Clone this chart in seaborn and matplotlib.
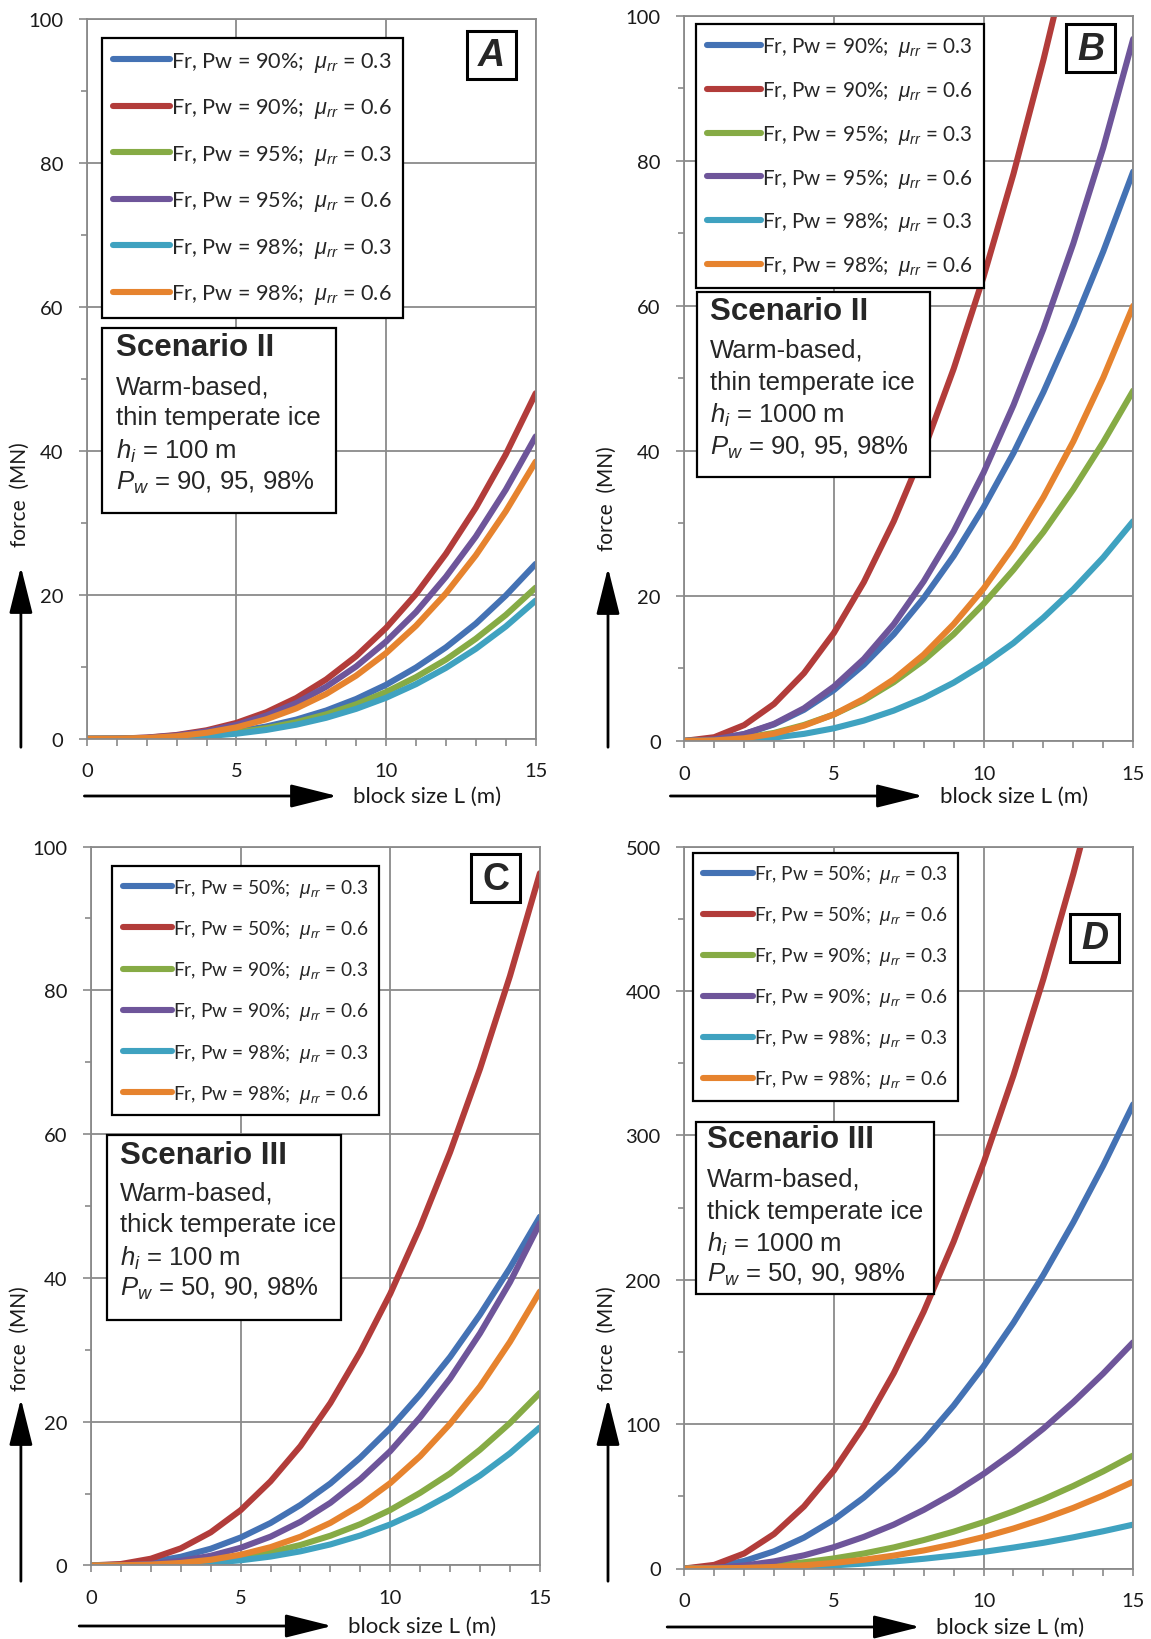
import seaborn as sns
import matplotlib.pyplot as plt
from matplotlib.patches import Rectangle, FancyArrowPatch
from matplotlib.ticker import MultipleLocator

W, H = 1151, 1640

L = list(range(16))
colors = ['#4472b4', '#b23c3a', '#86ab45', '#6e559a', '#3fa2c0', '#e6832e']
mu = ['0.3', '0.6', '0.3', '0.6', '0.3', '0.6']

# panel A: scenario II, hi = 100 m
a_pw = ['90', '90', '95', '95', '98', '98']
a_90_03 = [0, 0.01, 0.07, 0.23, 0.53, 1.0, 1.71, 2.67, 3.93, 5.53, 7.5, 9.9, 12.7, 16.0, 19.9, 24.3]
a_90_06 = [0, 0.02, 0.17, 0.53, 1.18, 2.21, 3.69, 5.67, 8.25, 11.47, 15.4, 20.1, 25.7, 32.1, 39.5, 48.0]
a_95_03 = [0, 0.01, 0.06, 0.2, 0.46, 0.87, 1.48, 2.31, 3.4, 4.79, 6.5, 8.57, 11.0, 13.9, 17.2, 21.0]
a_95_06 = [0, 0.02, 0.15, 0.46, 1.04, 1.94, 3.23, 4.97, 7.23, 10.05, 13.5, 17.6, 22.5, 28.1, 34.6, 42.0]
a_98_03 = [0, 0.01, 0.05, 0.15, 0.37, 0.71, 1.23, 1.96, 2.92, 4.16, 5.7, 7.59, 9.85, 12.5, 15.6, 19.2]
a_98_06 = [0, 0.02, 0.11, 0.36, 0.84, 1.59, 2.71, 4.23, 6.23, 8.77, 11.9, 15.7, 20.2, 25.5, 31.6, 38.5]

# panel B: scenario II, hi = 1000 m
b_pw = ['90', '90', '95', '95', '98', '98']
b_90_03 = [0, 0.2, 0.93, 2.28, 4.29, 7.01, 10.5, 14.7, 19.7, 25.5, 32.2, 39.7, 48.1, 57.4, 67.5, 78.5]
b_90_06 = [0, 0.51, 2.18, 5.1, 9.34, 14.9, 21.9, 30.3, 40.1, 51.3, 64.0, 78.2, 93.9, 111.0]
b_95_03 = [0, 0.08, 0.42, 1.1, 2.2, 3.65, 5.6, 8.1, 11.1, 14.7, 18.9, 23.6, 28.8, 34.7, 41.2, 48.3]
b_95_06 = [0, 0.2, 0.95, 2.35, 4.5, 7.5, 11.3, 16.1, 22.0, 28.9, 37.0, 46.3, 56.8, 68.6, 81.8, 96.8]
b_98_03 = [0, 0.03, 0.16, 0.46, 0.97, 1.74, 2.8, 4.18, 5.91, 8.03, 10.56, 13.5, 17.0, 20.9, 25.3, 30.3]
b_98_06 = [0, 0.06, 0.36, 1.0, 2.1, 3.65, 5.8, 8.5, 11.9, 16.1, 21.0, 26.8, 33.6, 41.3, 50.1, 60.0]

# panel C: scenario III, hi = 100 m
c_pw = ['50', '50', '90', '90', '98', '98']
c_50_03 = [0, 0.1, 0.47, 1.2, 2.32, 3.88, 5.9, 8.41, 11.4, 15.0, 19.1, 23.8, 29.0, 34.9, 41.4, 48.5]
c_50_06 = [0, 0.19, 0.93, 2.37, 4.6, 7.68, 11.7, 16.6, 22.6, 29.7, 37.8, 47.1, 57.5, 69.1, 82.0, 96.3]
c_90_03 = [0, 0.01, 0.08, 0.27, 0.59, 1.11, 1.85, 2.84, 4.13, 5.74, 7.71, 10.1, 12.8, 16.1, 19.8, 24.0]
c_90_06 = [0, 0.03, 0.21, 0.62, 1.34, 2.45, 4.0, 6.07, 8.71, 12.0, 15.9, 20.6, 26.0, 32.3, 39.4, 47.6]
c_98_03 = [0, 0.01, 0.05, 0.15, 0.37, 0.71, 1.23, 1.96, 2.92, 4.16, 5.7, 7.59, 9.85, 12.5, 15.6, 19.2]
c_98_06 = [0, 0.02, 0.11, 0.34, 0.78, 1.49, 2.54, 3.99, 5.92, 8.38, 11.45, 15.2, 19.7, 24.9, 31.1, 38.1]

# panel D: scenario III, hi = 1000 m
d_pw = ['50', '50', '90', '90', '98', '98']
d_50_03 = [0, 1.26, 5.18, 11.9, 21.4, 33.8, 49.2, 67.4, 88.6, 112.8, 140, 170.2, 203.4, 239.8, 279.1, 321.5]
d_50_06 = [0, 2.52, 10.4, 23.9, 43.0, 67.9, 98.7, 135.3, 177.9, 226.4, 281, 341.6, 408.4, 481.2, 560.2]
d_90_03 = [0, 0.2, 0.93, 2.27, 4.28, 6.99, 10.4, 14.6, 19.7, 25.5, 32.1, 39.6, 47.9, 57.2, 67.3, 78.3]
d_90_06 = [0, 0.47, 2.06, 4.93, 9.14, 14.8, 21.9, 30.4, 40.6, 52.2, 65.5, 80.4, 96.9, 115.2, 135.1, 156.7]
d_98_03 = [0, 0.05, 0.24, 0.64, 1.28, 2.18, 3.38, 4.89, 6.73, 8.93, 11.5, 14.5, 17.8, 21.6, 25.8, 30.4]
d_98_06 = [0, 0.07, 0.39, 1.07, 2.21, 3.85, 6.08, 8.94, 12.5, 16.8, 21.8, 27.7, 34.4, 42.0, 50.6, 60.1]

sns.set_theme(style='white')
plt.rcParams['font.family'] = ['Lato', 'DejaVu Sans']
plt.rcParams['mathtext.fontset'] = 'custom'
plt.rcParams['mathtext.it'] = 'Liberation Sans:italic'
plt.rcParams['mathtext.rm'] = 'Liberation Sans'

GRID = '#8a8a8a'
ARROW = '-|>,head_length=1.2,head_width=0.3'

fig = plt.figure(figsize=(W / 100, H / 100), dpi=100)


def fxy(px, py):
    return px / W, 1 - py / H


def draw_panel(rect, series, pw, ymax, ystep, letter, letter_xy, italic_letter,
               leg_xy, leg_fs, leg_sp, box, lines, line_y, text_x, yarrow, xarrow):
    x0, y0 = fxy(rect[0], rect[3])
    x1, y1 = fxy(rect[2], rect[1])
    ax = fig.add_axes([x0, y0, x1 - x0, y1 - y0])

    for vals, c, p, m in zip(series, colors, pw, mu):
        lab = 'Fr, Pw = %s%%;  $\\mu_{rr}$ = %s' % (p, m)
        sns.lineplot(x=L[:len(vals)], y=vals, ax=ax, color=c, lw=4.4, label=lab,
                     estimator=None, solid_joinstyle='round', solid_capstyle='round')

    ax.set_xlim(0, 15)
    ax.set_ylim(0, ymax)
    ax.xaxis.set_major_locator(MultipleLocator(5))
    ax.xaxis.set_minor_locator(MultipleLocator(1))
    ax.yaxis.set_major_locator(MultipleLocator(ystep))
    ax.yaxis.set_minor_locator(MultipleLocator(ystep / 2))
    ax.grid(True, which='major', color=GRID, lw=1.3)
    ax.set_axisbelow(True)
    for s in ax.spines.values():
        s.set_color(GRID)
        s.set_linewidth(1.3)
    ax.tick_params(which='both', direction='out', color=GRID, width=1.2,
                   labelsize=14.5, labelcolor='#1a1a1a')
    ax.tick_params(axis='x', which='both', length=5, pad=12)
    ax.tick_params(axis='y', which='major', length=6, pad=11)
    ax.tick_params(axis='y', which='minor', length=4)
    ax.tick_params(bottom=True, left=True, which='both')
    ax.set_xlabel('')
    ax.set_ylabel('')

    h, l = ax.get_legend_handles_labels()
    leg = ax.legend(h, l, loc='upper left', bbox_to_anchor=fxy(*leg_xy),
                    bbox_transform=fig.transFigure, borderaxespad=0, frameon=True,
                    fancybox=False, edgecolor='black', framealpha=1,
                    prop={'family': 'Lato', 'size': leg_fs}, handlelength=2.6,
                    handletextpad=0.05, labelspacing=leg_sp, borderpad=0.55)
    leg.get_frame().set_linewidth(1.6)
    for ln in leg.get_lines():
        ln.set_linewidth(4.4)

    # scenario box
    bx0, by0 = fxy(box[0], box[3])
    bx1, by1 = fxy(box[2], box[1])
    fig.add_artist(Rectangle((bx0, by0), bx1 - bx0, by1 - by0, transform=fig.transFigure,
                             facecolor='white', edgecolor='black', lw=1.6, zorder=5))
    for i, (txt, yy) in enumerate(zip(lines, line_y)):
        fig.text(*fxy(text_x, yy), txt, ha='left', va='center', zorder=6,
                 family='Liberation Sans', fontsize=22.5 if i == 0 else 18.5,
                 fontweight='bold' if i == 0 else 'normal')

    # panel letter
    cx, cy = letter_xy
    lx0, ly0 = fxy(cx - 24.5, cy + 24)
    fig.add_artist(Rectangle((lx0, ly0), 49 / W, 48 / H, transform=fig.transFigure,
                             facecolor='white', edgecolor='black', lw=2.2, zorder=5))
    fig.text(*fxy(cx, cy + 1), letter, ha='center', va='center', zorder=6,
             family='Liberation Sans', fontsize=27, fontweight='bold',
             style='italic' if italic_letter else 'normal')

    # axis arrows
    ax_x, ay0, ay1, ty = yarrow
    fig.add_artist(FancyArrowPatch(fxy(ax_x, ay0), fxy(ax_x, ay1), transform=fig.transFigure,
                                   arrowstyle=ARROW, mutation_scale=24, lw=2, color='black'))
    fig.text(*fxy(ax_x - 1.5, ty), 'force  (MN)', rotation=90, ha='center', va='center',
             fontsize=15, color='#1a1a1a')
    xa0, xa1, xy_, tx = xarrow
    fig.add_artist(FancyArrowPatch(fxy(xa0, xy_), fxy(xa1, xy_), transform=fig.transFigure,
                                   arrowstyle=ARROW, mutation_scale=24, lw=2, color='black'))
    fig.text(*fxy(tx, xy_), 'block size L (m)', ha='left', va='center',
             fontsize=16, color='#1a1a1a')
    return ax


draw_panel((86.8, 19.9, 535.7, 739.8),
           [a_90_03, a_90_06, a_95_03, a_95_06, a_98_03, a_98_06], a_pw, 100, 20,
           'A', (491.3, 55.5), True, (101.5, 38.7), 15.6, 1.04,
           (101.5, 328.6, 335.9, 513.8),
           ['Scenario II', 'Warm-based,', 'thin temperate ice',
            '$h_i$ = 100 m', '$P_w$ = 90, 95, 98%'],
           [348.4, 387.2, 418.5, 451.0, 483.4], 116,
           (20.9, 751, 565, 495), (81.6, 340, 797, 352.6))

draw_panel((684.3, 16.7, 1133.2, 741.9),
           [b_90_03, b_90_06, b_95_03, b_95_06, b_98_03, b_98_06], b_pw, 100, 20,
           'B', (1090.8, 49.2), True, (695.8, 25.1), 14.9, 1.0,
           (696.9, 293.0, 930.2, 478.2),
           ['Scenario II', 'Warm-based,', 'thin temperate ice',
            '$h_i$ = 1000 m', '$P_w$ = 90, 95, 98%'],
           [311.8, 350.5, 383.0, 415.4, 447.8], 710,
           (608, 751, 566, 499), (667.6, 926, 797, 939.6))

draw_panel((91.0, 847.6, 539.9, 1566.4),
           [c_50_03, c_50_06, c_90_03, c_90_06, c_98_03, c_98_06], c_pw, 100, 20,
           'C', (495.9, 879.0), False, (112.0, 867.4), 13.8, 1.0,
           (106.7, 1136.3, 341.1, 1320.5),
           ['Scenario III', 'Warm-based,', 'thick temperate ice',
            '$h_i$ = 100 m', '$P_w$ = 50, 90, 98%'],
           [1155.6, 1193.2, 1225.3, 1257.9, 1289.2], 120,
           (20.9, 1585, 1397, 1339), (76.4, 334.8, 1627, 348.4))

draw_panel((684.3, 847.6, 1133.2, 1569.5),
           [d_50_03, d_50_06, d_90_03, d_90_06, d_98_03, d_98_06], d_pw, 500, 100,
           'D', (1094.8, 938.5), True, (692.7, 853.8), 13.7, 1.0,
           (695.8, 1122.7, 934.4, 1295.4),
           ['Scenario III', 'Warm-based,', 'thick temperate ice',
            '$h_i$ = 1000 m', '$P_w$ = 50, 90, 98%'],
           [1140.5, 1179.2, 1211.6, 1244.0, 1275.4], 707,
           (608, 1585, 1397, 1339), (664.4, 922.9, 1628, 936.5))

fig.savefig('out.png', dpi=100)
